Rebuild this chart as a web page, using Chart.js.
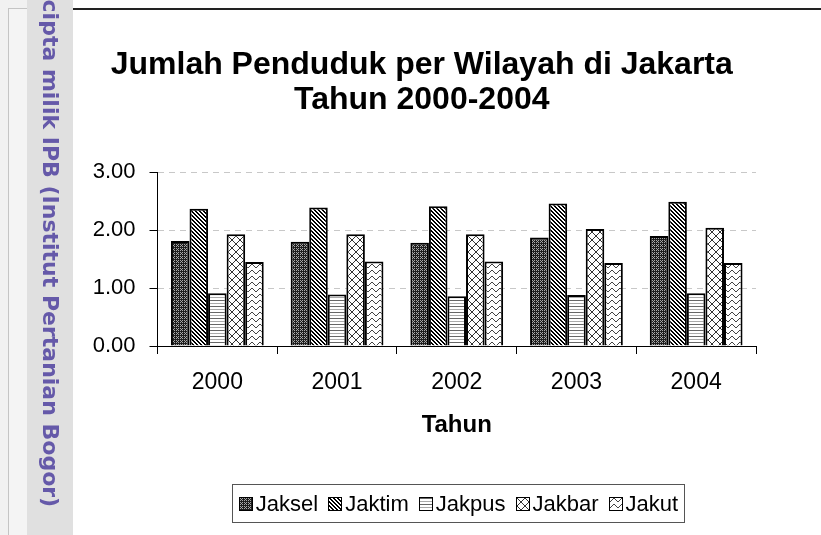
<!DOCTYPE html>
<html>
<head>
<meta charset="utf-8">
<script src="https://cdn.jsdelivr.net/npm/chart.js@4/dist/chart.umd.min.js"></script>
<style>
  body { margin: 0; background: #fff; font-family: "Liberation Sans", Arial, sans-serif; }
  #wrap { position: relative; width: 821px; height: 535px; overflow: hidden; }
  #chart { position: absolute; left: 0; top: 0; }
  .strip { position: absolute; left: 0; top: 0; width: 27px; height: 535px; background: #f1f1f1; }
  .frame { position: absolute; left: 8px; top: 8px; width: 19px; height: 527px; border-left: 1px solid #c4c4c4; border-top: 1px solid #c4c4c4; background: #f4f4f4; }
  .band { position: absolute; left: 27px; top: 0; width: 46px; height: 535px; background: #e0e0e0; overflow: hidden; }
  .mark { position: absolute; left: 12px; top: -56px; writing-mode: vertical-rl; white-space: nowrap;
          font: bold 22px "DejaVu Sans", Verdana, sans-serif; line-height: 22px; color: rgba(70, 55, 155, 0.8); }
  .topline { position: absolute; left: 73px; top: 8px; width: 748px; height: 2px; background: #222; }
  #legend { position: absolute; left: 232px; top: 484px; width: 451px; height: 37px; border: 1px solid #555;
            display: flex; align-items: center; justify-content: center; gap: 10px; font-size: 22px; color: #000; }
  #legend .item { display: flex; align-items: center; gap: 3px; }
  #legend .sw { width: 12px; height: 12px; border: 1px solid #000; }
</style>
</head>
<body>
<div id="wrap">
  <canvas id="chart" width="821" height="535"></canvas>
  <div class="strip"></div>
  <div class="frame"></div>
  <div class="band"><div class="mark">Hak cipta milik IPB (Institut Pertanian Bogor)</div></div>
  <div class="topline"></div>
  <div id="legend"></div>
</div>
<script>
// data
const years = ['2000', '2001', '2002', '2003', '2004'];
const seriesNames = ['Jaksel', 'Jaktim', 'Jakpus', 'Jakbar', 'Jakut'];
const jaksel = [1.81, 1.80, 1.78, 1.87, 1.90];
const jaktim = [2.37, 2.39, 2.41, 2.46, 2.49];
const jakpus = [0.91, 0.89, 0.86, 0.88, 0.91];
const jakbar = [1.93, 1.93, 1.93, 2.02, 2.04];
const jakut = [1.45, 1.46, 1.46, 1.43, 1.43];
const yTicks = [0, 1, 2, 3];

const FONT = '"Liberation Sans", Arial, sans-serif';

// small pattern tiles, black & white like the printed chart
function tile(w, h, bg, fn) {
  const c = document.createElement('canvas');
  c.width = w; c.height = h;
  const g = c.getContext('2d');
  g.fillStyle = bg;
  g.fillRect(0, 0, w, h);
  fn(g);
  return c;
}
function px(g, color, pts) {
  g.fillStyle = color;
  pts.forEach(p => g.fillRect(p[0], p[1], 1, 1));
}

const tiles = [
  // Jaksel: dark dotted
  tile(4, 4, '#1e1e1e', g => px(g, '#a8a8a8', [[0, 0], [2, 0], [1, 1], [0, 2], [2, 2]])),
  // Jaktim: diagonal stripes
  tile(4, 4, '#fff', g => {
    const pts = [];
    for (let y = 0; y < 4; y++) for (let x = 0; x < 4; x++) if (((x - y) % 4 + 4) % 4 < 2) pts.push([x, y]);
    px(g, '#000', pts);
  }),
  // Jakpus: horizontal lines
  tile(4, 6, '#fff', g => {
    g.fillStyle = '#666'; g.fillRect(0, 0, 4, 1);
    g.fillStyle = '#aaa'; g.fillRect(0, 3, 4, 1);
  }),
  // Jakbar: diamond lattice
  tile(8, 8, '#fff', g => {
    const pts = [];
    for (let i = 0; i < 8; i++) { pts.push([i, i]); pts.push([7 - i, i]); }
    px(g, '#333', pts);
  }),
  // Jakut: zigzag waves
  tile(8, 6, '#fff', g => {
    const ys = [3, 2, 1, 0, 0, 1, 2, 3];
    px(g, '#444', ys.map((y, x) => [x, y]));
  })
];

const canvas = document.getElementById('chart');
const ctx = canvas.getContext('2d');
const patterns = tiles.map(t => ctx.createPattern(t, 'repeat'));
const values = [jaksel, jaktim, jakpus, jakbar, jakut];

// legend in html so the swatch/text spacing matches
const legend = document.getElementById('legend');
seriesNames.forEach((name, i) => {
  const item = document.createElement('div');
  item.className = 'item';
  const sw = document.createElement('div');
  sw.className = 'sw';
  sw.style.backgroundImage = 'url(' + tiles[i].toDataURL() + ')';
  const label = document.createElement('span');
  label.textContent = name;
  item.appendChild(sw);
  item.appendChild(label);
  legend.appendChild(item);
});

new Chart(ctx, {
  type: 'bar',
  data: {
    labels: years,
    datasets: seriesNames.map((name, i) => ({
      label: name,
      data: values[i],
      backgroundColor: patterns[i],
      borderColor: '#000',
      borderWidth: 2,
      barPercentage: 1,
      categoryPercentage: 0.775
    }))
  },
  options: {
    responsive: false,
    animation: false,
    layout: { padding: { left: 87.5, right: 65, top: 0, bottom: 89 } },
    plugins: {
      legend: { display: false },
      tooltip: { enabled: false },
      title: {
        display: true,
        text: ['Jumlah Penduduk per Wilayah di Jakarta', 'Tahun 2000-2004'],
        color: '#000',
        font: { family: FONT, size: 32, weight: 'bold', lineHeight: 1.08 },
        padding: { top: 48, bottom: 55 }
      }
    },
    scales: {
      x: {
        grid: { display: true, drawOnChartArea: false, drawTicks: true, tickLength: 8, color: '#000' },
        border: { color: '#000', width: 1 },
        ticks: { color: '#000', font: { family: FONT, size: 23 }, padding: 15 },
        title: { display: true, text: 'Tahun', color: '#000', font: { family: FONT, size: 24, weight: 'bold' }, padding: { top: 0, bottom: 6 } },
        afterFit: s => { s.height = 100; }
      },
      y: {
        min: 0,
        max: 3,
        afterBuildTicks: s => { s.ticks = yTicks.map(v => ({ value: v })); },
        afterFit: s => { s.width = 70; },
        grid: {
          color: c => (c.tick && c.tick.value === 0 ? 'rgba(0,0,0,0)' : '#c8c8c8'),
          tickColor: '#000',
          tickLength: 8
        },
        border: { color: '#000', width: 1, dash: [6, 5] },
        ticks: {
          color: '#000',
          font: { family: FONT, size: 22 },
          padding: 14,
          callback: v => v.toFixed(2)
        }
      }
    }
  }
});
</script>
</body>
</html>
